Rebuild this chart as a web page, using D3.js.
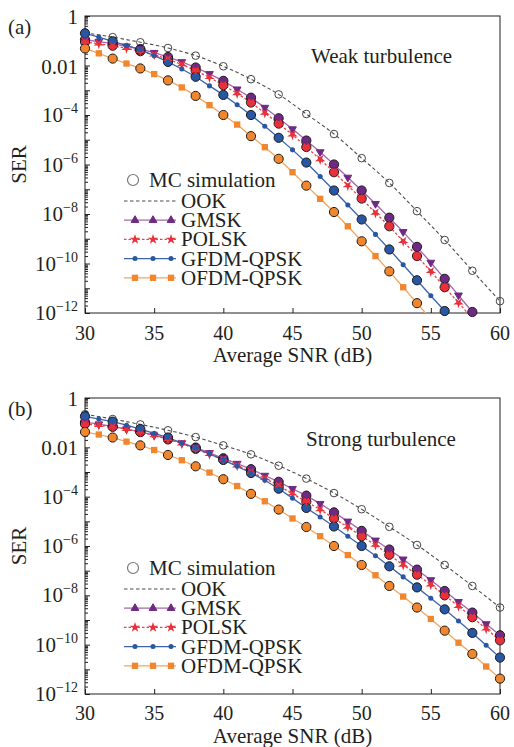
<!DOCTYPE html>
<html>
<head>
<meta charset="utf-8">
<script src="https://cdn.jsdelivr.net/npm/d3@7"></script>
<style>
body{margin:0;background:#fff;}
svg text{font-family:"Liberation Serif","Times New Roman",serif;fill:#231f20;}
</style>
</head>
<body>
<svg id="chart" width="514" height="747"></svg>
<script>
/* DATA
------------------------------------------------------ */
const snrDb   = [30,31,32,33,34,35,36,37,38,39,40,41,42,43,44,45,46,47,48,49,50,51,52,53,54,55,56,57,58,59,60];
const snrEven = [30,32,34,36,38,40,42,44,46,48,50,52,54,56,58,60];

const seriesNames = ["OOK","GMSK","POLSK","GFDM-QPSK","OFDM-QPSK"];
const panelLetters = ["(a)","(b)"];
const panelTitles = ["Weak turbulence","Strong turbulence"];

const xTickValues = [30,35,40,45,50,55,60];
const yTickValues = [1,1e-2,1e-4,1e-6,1e-8,1e-10,1e-12];
const yTickBase = ["1","0.01","10","10","10","10","10"];
const yTickExp  = ["","","\u22124","\u22126","\u22128","\u221210","\u221212"];

/* weak turbulence (a) */
const weakOOK  = [2.1e-1,1.4e-1,8.7e-2,5.1e-2,2.5e-2,9.3e-3,2.8e-3,6.8e-4,1.1e-4,1.7e-5,1.8e-6,1.8e-7,1.3e-8,8.9e-10,5.1e-11,3.0e-12];
const weakGMSK = [1.1e-1,9.3e-2,7.6e-2,6.0e-2,4.6e-2,3.3e-2,2.2e-2,1.4e-2,8.3e-3,4.6e-3,2.4e-3,1.1e-3,5.0e-4,2.0e-4,7.4e-5,2.7e-5,
                  9.3e-6,3.2e-6,1.0e-6,3.0e-7,8.9e-8,2.6e-8,7.1e-9,1.9e-9,4.7e-10,1.1e-10,2.4e-11,5.2e-12,1.1e-12,2.4e-13];
const weakPOLSK= [8.9e-2,7.6e-2,6.3e-2,5.0e-2,3.8e-2,2.7e-2,1.8e-2,1.1e-2,6.2e-3,3.3e-3,1.6e-3,7.4e-4,3.2e-4,1.2e-4,4.5e-5,1.6e-5,
                  5.1e-6,1.6e-6,4.9e-7,1.4e-7,4.2e-8,1.1e-8,3.2e-9,7.9e-10,2.0e-10,4.8e-11,1.1e-11,2.6e-12,6.0e-13];
const weakGFDM = [2.0e-1,1.4e-1,9.5e-2,6.5e-2,4.3e-2,2.5e-2,1.4e-2,7.2e-3,3.5e-3,1.5e-3,6.5e-4,2.6e-4,1.0e-4,3.5e-5,1.2e-5,3.9e-6,
                  1.2e-6,3.3e-7,8.9e-8,2.3e-8,6.0e-9,1.5e-9,3.7e-10,8.9e-11,2.1e-11,5.0e-12,1.2e-12,2.7e-13];
const weakOFDM = [4.9e-2,3.1e-2,1.9e-2,1.2e-2,7.6e-3,4.5e-3,2.5e-3,1.3e-3,5.9e-4,2.5e-4,1.0e-4,4.1e-5,1.4e-5,5.0e-6,1.7e-6,4.9e-7,
                  1.4e-7,4.1e-8,1.2e-8,3.2e-9,7.9e-10,2.0e-10,4.8e-11,1.1e-11,2.5e-12,5.6e-13];

/* strong turbulence (b) */
const strongOOK  = [2.2e-1,1.4e-1,8.5e-2,4.9e-2,2.6e-2,1.2e-2,5.2e-3,1.8e-3,5.4e-4,1.4e-4,3.1e-5,6.0e-6,1.1e-6,1.7e-7,2.4e-8,3.2e-9];
const strongGMSK = [1.05e-1,8.7e-2,7.1e-2,5.5e-2,4.2e-2,3.1e-2,2.2e-2,1.5e-2,9.8e-3,6.0e-3,3.6e-3,2.2e-3,1.3e-3,7.2e-4,4.0e-4,2.1e-4,
                    1.1e-4,5.2e-5,2.3e-5,1.0e-5,4.1e-6,1.7e-6,7.2e-7,2.9e-7,1.1e-7,4.2e-8,1.5e-8,5.5e-9,2.0e-9,6.9e-10,2.4e-10];
const strongPOLSK= [8.9e-2,7.9e-2,6.8e-2,5.4e-2,4.2e-2,3.0e-2,2.1e-2,1.4e-2,8.7e-3,5.2e-3,3.2e-3,1.8e-3,1.0e-3,5.5e-4,2.8e-4,1.3e-4,
                    6.3e-5,3.0e-5,1.3e-5,5.9e-6,2.5e-6,1.1e-6,4.4e-7,1.7e-7,6.9e-8,2.7e-8,1.0e-8,3.6e-9,1.3e-9,4.4e-10,1.5e-10];
const strongGFDM = [1.8e-1,1.4e-1,1.1e-1,7.9e-2,5.5e-2,3.7e-2,2.5e-2,1.5e-2,9.1e-3,5.4e-3,3.1e-3,1.7e-3,9.1e-4,4.6e-4,2.1e-4,8.7e-5,
                    3.5e-5,1.5e-5,6.2e-6,2.5e-6,1.0e-6,4.0e-7,1.5e-7,5.6e-8,2.1e-8,7.6e-9,2.7e-9,9.1e-10,3.0e-10,9.5e-11,3.0e-11];
const strongOFDM = [4.2e-2,3.3e-2,2.5e-2,1.7e-2,1.2e-2,7.8e-3,4.9e-3,3.0e-3,1.7e-3,9.5e-4,5.1e-4,2.7e-4,1.3e-4,6.5e-5,3.0e-5,1.3e-5,
                    5.9e-6,2.5e-6,1.0e-6,4.3e-7,1.7e-7,6.5e-8,2.4e-8,8.9e-9,3.2e-9,1.1e-9,3.7e-10,1.2e-10,4.2e-11,1.3e-11,4.2e-12];

/* STYLE
------------------------------------------------------ */
const styles = [
  {line:"#4d4d4d", mark:null,      dash:"3.5,2.5", symbol:null},
  {line:"#a467ad", mark:"#6f2a83", dash:null,      symbol:"tri"},
  {line:"#e8414a", mark:"#e8313a", dash:"2.5,2",   symbol:"star"},
  {line:"#3d63ad", mark:"#2957a4", dash:null,      symbol:"dot"},
  {line:"#f2a55e", mark:"#f0862e", dash:null,      symbol:"square"}
];

const panels = [
  {top:16,  bottom:313, letterY:34,  titleX:311, titleY:63,  legendY:201, tickY:340, labelY:362,
   data:[weakOOK,weakGMSK,weakPOLSK,weakGFDM,weakOFDM]},
  {top:398, bottom:694, letterY:416, titleX:306, titleY:446, legendY:589, tickY:720, labelY:743,
   data:[strongOOK,strongGMSK,strongPOLSK,strongGFDM,strongOFDM]}
];

const left = 85, right = 500;
const svg = d3.select("#chart");

function symbolPath(kind){
  if(kind==="tri") return d3.symbol().type(d3.symbolTriangle).size(26)();
  if(kind==="star") return d3.symbol().type(d3.symbolStar).size(34)();
  if(kind==="dot") return d3.symbol().type(d3.symbolCircle).size(20)();
  return d3.symbol().type(d3.symbolSquare).size(40)();
}

function drawMarker(g, kind, st, cx, cy, down){
  g.append("path")
    .attr("d", symbolPath(kind))
    .attr("transform", "translate(" + cx + "," + cy + ")" + (down ? " rotate(180)" : ""))
    .attr("fill", st.mark)
    .attr("stroke", kind==="tri" ? st.mark : "none");
}

panels.forEach(function(p, k){
  const x = d3.scaleLinear().domain([30,60]).range([left,right]);
  const y = d3.scaleLog().domain([1,1e-12]).range([p.top,p.bottom]);
  const g = svg.append("g");

  g.append("clipPath").attr("id","clip"+k)
    .append("rect").attr("x",left).attr("y",p.top)
    .attr("width",right-left).attr("height",p.bottom-p.top);

  /* ticks */
  const major = d3.range(0,13).map(function(i){return Math.pow(10,-i);});
  const minor = [];
  major.slice(1).forEach(function(d){ for(let m=2;m<=9;m++) minor.push(d*m); });

  g.append("g").attr("transform","translate("+left+",0)")
    .call(d3.axisLeft(y).tickValues(major).tickSize(-5).tickFormat(""))
    .call(function(a){a.select(".domain").remove(); a.selectAll("line").attr("stroke","#231f20");});
  g.append("g").attr("transform","translate("+left+",0)")
    .call(d3.axisLeft(y).tickValues(minor).tickSize(-3).tickFormat(""))
    .call(function(a){a.select(".domain").remove(); a.selectAll("line").attr("stroke","#231f20");});
  g.append("g").attr("transform","translate(0,"+p.bottom+")")
    .call(d3.axisBottom(x).tickValues(xTickValues).tickSize(-5).tickFormat(""))
    .call(function(a){a.select(".domain").remove(); a.selectAll("line").attr("stroke","#231f20");});

  /* frame */
  g.append("rect").attr("x",left).attr("y",p.top)
    .attr("width",right-left).attr("height",p.bottom-p.top)
    .attr("fill","none").attr("stroke","#231f20").attr("stroke-width",1);

  /* tick labels */
  yTickValues.forEach(function(v,i){
    const t = g.append("text").attr("x",78)
      .attr("y", y(v) + (yTickExp[i] ? 7 : 8))
      .attr("text-anchor","end").attr("font-size",21).text(yTickBase[i]);
    if(yTickExp[i]) t.append("tspan").attr("dy",-9).attr("font-size",14).text(yTickExp[i]);
  });
  xTickValues.forEach(function(v){
    g.append("text").attr("x",x(v)).attr("y",p.tickY)
      .attr("text-anchor","middle").attr("font-size",20).text(v);
  });

  /* axis titles */
  g.append("text").attr("x",(left+right)/2).attr("y",p.labelY)
    .attr("text-anchor","middle").attr("font-size",21).text("Average SNR (dB)");
  g.append("text").attr("transform","translate(26,"+((p.top+p.bottom)/2)+") rotate(-90)")
    .attr("text-anchor","middle").attr("font-size",21).text("SER");
  g.append("text").attr("x",8).attr("y",p.letterY).attr("font-size",21).text(panelLetters[k]);
  g.append("text").attr("x",p.titleX).attr("y",p.titleY).attr("font-size",21).text(panelTitles[k]);

  /* curves */
  const line = d3.line().x(function(d){return x(d[0]);}).y(function(d){return y(d[1]);});
  const curves = g.append("g").attr("clip-path","url(#clip"+k+")");
  p.data.forEach(function(vals,s){
    const xs = s===0 ? snrEven : snrDb;
    const pts = vals.map(function(v,i){return [xs[i],v];});
    curves.append("path")
      .attr("d", s===0 ? line.curve(d3.curveMonotoneX)(pts) : line.curve(d3.curveLinear)(pts))
      .attr("fill","none").attr("stroke",styles[s].line)
      .attr("stroke-width", s===0 ? 1.1 : 1.3)
      .attr("stroke-dasharray", styles[s].dash);
  });

  /* Monte-Carlo circles at even SNR, then series markers */
  const marks = g.append("g");
  p.data.forEach(function(vals,s){
    const xs = s===0 ? snrEven : snrDb;
    vals.forEach(function(v,i){
      if(v < 1e-12 || xs[i] % 2 !== 0) return;
      marks.append("circle").attr("cx",x(xs[i])).attr("cy",y(v))
        .attr("r", s===0 ? 3.8 : 4.6)
        .attr("fill", s===0 ? "none" : styles[s].mark)
        .attr("stroke", s===0 ? "#444" : "#1a1a1a").attr("stroke-width",1);
    });
  });
  p.data.forEach(function(vals,s){
    if(!styles[s].symbol) return;
    vals.forEach(function(v,i){
      if(v < 1e-12) return;
      drawMarker(marks, styles[s].symbol, styles[s], x(snrDb[i]), y(v), true);
    });
  });

  /* legend */
  const lg = g.append("g");
  lg.append("circle").attr("cx",133).attr("cy",p.legendY-21).attr("r",5.5)
    .attr("fill","none").attr("stroke","#777").attr("stroke-width",1.2);
  lg.append("text").attr("x",149).attr("y",p.legendY-21+7).attr("font-size",21).text("MC simulation");
  seriesNames.forEach(function(name,s){
    const ly = p.legendY + s*19.2;
    lg.append("line").attr("x1",124).attr("x2",176).attr("y1",ly).attr("y2",ly)
      .attr("stroke",styles[s].line).attr("stroke-width", s===0 ? 1.1 : 1.3)
      .attr("stroke-dasharray",styles[s].dash);
    if(styles[s].symbol){
      [135,153,171].forEach(function(mx){ drawMarker(lg, styles[s].symbol, styles[s], mx, ly, false); });
    }
    lg.append("text").attr("x",181).attr("y",ly+7).attr("font-size",21).text(name);
  });
});
</script>
</body>
</html>
